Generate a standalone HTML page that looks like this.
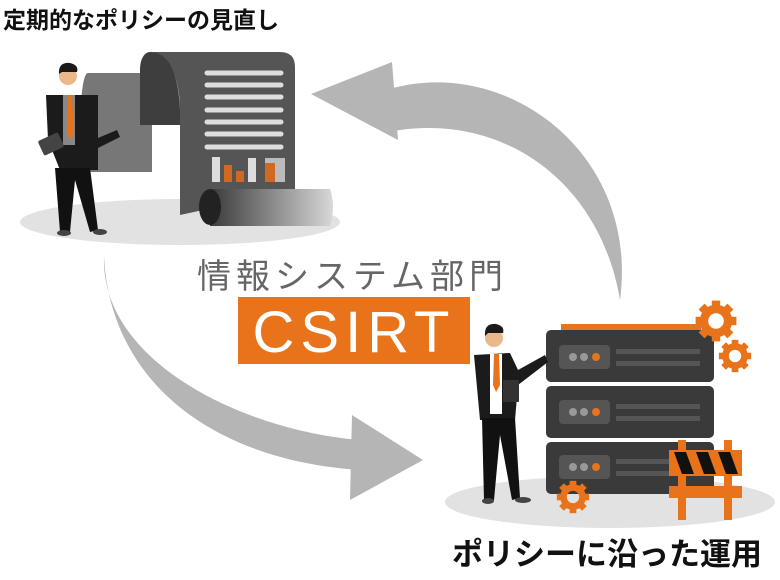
<!DOCTYPE html>
<html><head><meta charset="utf-8"><style>
html,body{margin:0;padding:0;background:#fff;width:780px;height:580px;overflow:hidden}
svg{display:block}
text{font-family:"Liberation Sans","Noto Sans CJK JP",sans-serif}
</style></head><body>
<svg width="780" height="580" viewBox="0 0 780 580" xmlns="http://www.w3.org/2000/svg">
<defs>
<linearGradient id="roll" x1="0" x2="1"><stop offset="0" stop-color="#3a3a3a"/><stop offset="1" stop-color="#d8d8d8"/></linearGradient>
<g id="gear"><circle r="10" fill="none" stroke="#e8731a" stroke-width="7"/>
<g fill="#e8731a"><rect x="-3.5" y="-17" width="7" height="7"/><rect x="-3.5" y="10" width="7" height="7"/><rect x="-17" y="-3.5" width="7" height="7"/><rect x="10" y="-3.5" width="7" height="7"/>
<g transform="rotate(45)"><rect x="-3.5" y="-17" width="7" height="7"/><rect x="-3.5" y="10" width="7" height="7"/><rect x="-17" y="-3.5" width="7" height="7"/><rect x="10" y="-3.5" width="7" height="7"/></g></g></g>
</defs>
<!-- titles -->
<text x="3" y="28" font-size="23" font-weight="bold" fill="#111">定期的なポリシーの見直し</text>
<text x="452" y="565" font-size="31" font-weight="bold" fill="#111">ポリシーに沿った運用</text>
<!-- arrows -->
<path d="M380,92 C500,50 640,150 620,300 C600,180 500,110 388,132 Z" fill="#b5b5b5"/>
<polygon points="311,94 392,62 398,140" fill="#b5b5b5"/>
<path d="M104,256 C100,360 240,430 360,440 L360,470 C210,460 110,380 104,256 Z" fill="#b5b5b5"/>
<polygon points="423,460 352,415 350,500" fill="#b5b5b5"/>
<!-- ground -->
<ellipse cx="180" cy="222" rx="160" ry="23" fill="#e2e2e2"/>
<ellipse cx="610" cy="502" rx="165" ry="26" fill="#e2e2e2"/>
<!-- scroll -->
<path d="M88,73 L152,73 L152,172 L88,172 C78,172 78,73 88,73 Z" fill="#777"/>
<path d="M150,52 L280,52 Q295,52 295,67 L295,190 L180,215 L180,110 C180,80 170,52 150,52 Z" fill="#555"/>
<path d="M150,52 C165,52 178,65 180,110 L180,125 L140,125 L140,70 C140,58 145,52 150,52Z" fill="#3e3e3e"/>
<g stroke="#ddd" stroke-width="5" stroke-linecap="round">
<line x1="207" y1="73" x2="281" y2="73"/><line x1="207" y1="85" x2="281" y2="85"/><line x1="207" y1="97" x2="281" y2="97"/><line x1="207" y1="110" x2="281" y2="110"/><line x1="207" y1="122" x2="281" y2="122"/><line x1="207" y1="134" x2="281" y2="134"/><line x1="207" y1="147" x2="281" y2="147"/></g>
<rect x="212" y="157" width="8" height="25" fill="#ddd"/><rect x="224" y="165" width="8" height="17" fill="#d06a22"/><rect x="236" y="171" width="8" height="11" fill="#d06a22"/><rect x="248" y="158" width="8" height="24" fill="#ddd"/>
<rect x="265" y="158" width="20" height="24" fill="#bbb"/><rect x="265" y="163" width="10" height="19" fill="#d06a22"/>
<path d="M210,189 L330,189 Q336,207 330,226 L210,226 Z" fill="url(#roll)"/>
<ellipse cx="210" cy="207" rx="11" ry="18" fill="#222"/>
<!-- person 1 -->
<circle cx="68" cy="76" r="9" fill="#e9b88b"/><path d="M59,74 Q58,62 70,63 Q79,65 77,72 L62,72Z" fill="#1a1a1a"/>
<path d="M46,95 L98,95 L98,138 L117,130 L120,137 L98,148 L98,170 L60,170 L48,140 Z" fill="#1b1b1b"/>
<rect x="63" y="95" width="12" height="50" fill="#888"/><path d="M68,95 L72,95 L74,133 L70,140 L67,133Z" fill="#e8731a"/>
<path d="M55,168 L90,168 L98,230 L90,232 L75,180 L70,232 L60,232Z" fill="#111"/>
<rect x="40" y="136" width="22" height="16" rx="2" fill="#444" transform="rotate(-25 51 144)"/>
<ellipse cx="64" cy="233" rx="7" ry="3" fill="#444"/><ellipse cx="100" cy="232" rx="7" ry="3" fill="#444"/>
<!-- center labels -->
<text x="197" y="288" font-size="34" fill="#666" letter-spacing="5">情報システム部門</text>
<rect x="238" y="297" width="232" height="67" fill="#e8731a"/>
<text x="354" y="352" font-size="58" fill="#fff" text-anchor="middle" letter-spacing="6">CSIRT</text>
<!-- server -->
<rect x="561" y="324" width="140" height="7" fill="#e8731a"/>
<g fill="#3a3a3a"><rect x="546" y="330" width="168" height="52" rx="5"/><rect x="546" y="386" width="168" height="52" rx="5"/><rect x="546" y="442" width="168" height="52" rx="5"/></g>
<g><rect x="559" y="345" width="51" height="24" rx="4" fill="#555"/><rect x="616" y="349" width="84" height="5" fill="#555"/><rect x="616" y="361" width="84" height="5" fill="#555"/><circle cx="573" cy="357" r="4" fill="#999"/><circle cx="584" cy="357" r="4" fill="#999"/><circle cx="596" cy="357" r="4" fill="#e8731a"/></g>
<g transform="translate(0,55)"><rect x="559" y="345" width="51" height="24" rx="4" fill="#555"/><rect x="616" y="349" width="84" height="5" fill="#555"/><rect x="616" y="361" width="84" height="5" fill="#555"/><circle cx="573" cy="357" r="4" fill="#999"/><circle cx="584" cy="357" r="4" fill="#999"/><circle cx="596" cy="357" r="4" fill="#e8731a"/></g>
<g transform="translate(0,110)"><rect x="559" y="345" width="51" height="24" rx="4" fill="#555"/><rect x="616" y="349" width="84" height="5" fill="#555"/><rect x="616" y="361" width="84" height="5" fill="#555"/><circle cx="573" cy="357" r="4" fill="#999"/><circle cx="584" cy="357" r="4" fill="#999"/><circle cx="596" cy="357" r="4" fill="#e8731a"/></g>
<use href="#gear" transform="translate(716,321) scale(1.2)"/>
<use href="#gear" transform="translate(735,356) scale(0.95)"/>
<use href="#gear" transform="translate(573,497) scale(0.95)"/>
<!-- barrier -->
<g fill="#e8731a"><rect x="678" y="440" width="8" height="80"/><rect x="724" y="440" width="8" height="80"/><rect x="669" y="450" width="73" height="26"/><rect x="669" y="486" width="73" height="12"/></g>
<g fill="#111"><polygon points="674,452 686,452 694,474 682,474"/><polygon points="696,452 708,452 716,474 704,474"/><polygon points="718,452 730,452 738,474 726,474"/></g>
<!-- person 2 -->
<circle cx="494" cy="338" r="9" fill="#e9b88b"/><path d="M485,336 Q484,323 496,324 Q505,326 503,333 L488,333Z" fill="#1a1a1a"/>
<path d="M474,355 L510,353 L518,370 L545,355 L548,362 L518,385 L515,420 L480,420 Z" fill="#1b1b1b"/>
<rect x="490" y="354" width="12" height="60" fill="#fff"/><path d="M494,354 L499,354 L500,385 L496,392 L493,385Z" fill="#e8731a"/>
<path d="M482,418 L515,418 L520,498 L512,500 L500,435 L494,500 L484,500Z" fill="#111"/>
<rect x="503" y="380" width="16" height="22" rx="1" fill="#333"/>
<ellipse cx="488" cy="501" rx="6" ry="3" fill="#444"/><ellipse cx="523" cy="500" rx="8" ry="3" fill="#444"/>
</svg>
</body></html>
